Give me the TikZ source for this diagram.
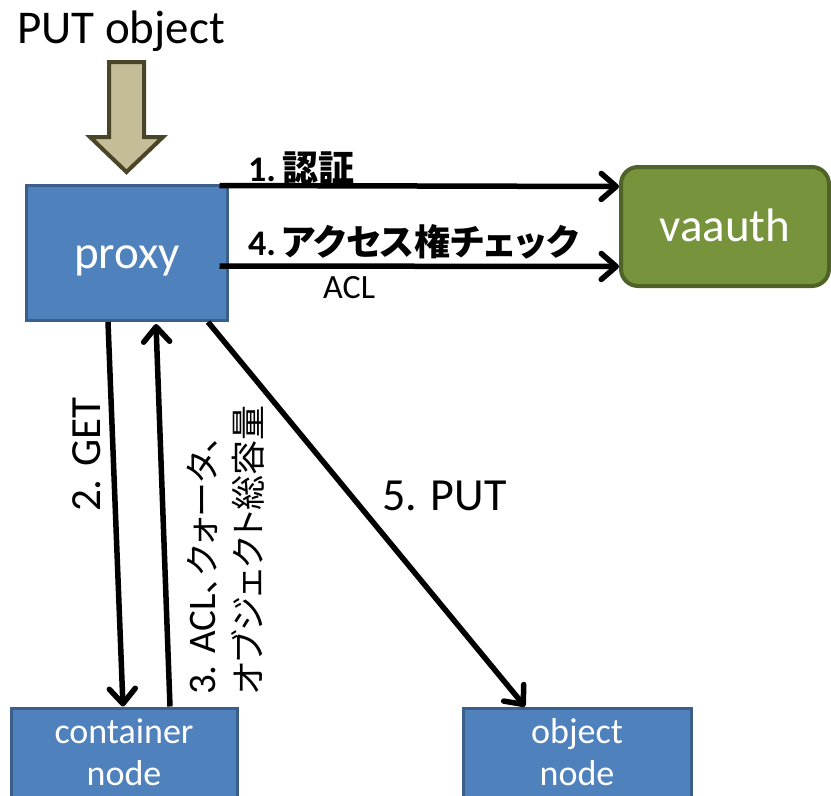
\documentclass[tikz,border=0pt]{standalone}
\usepackage{fontspec}
\setmainfont{Carlito}
\newfontfamily\jp[RawFeature=+palt]{Noto Sans CJK JP}
\usetikzlibrary{arrows.meta}

\definecolor{boxblue}{HTML}{4F81BD}
\definecolor{boxblueline}{HTML}{3A5F8B}
\definecolor{authgreen}{HTML}{77933C}
\definecolor{authgreenline}{HTML}{4F6228}
\definecolor{intan}{HTML}{C4BD97}
\definecolor{intanline}{HTML}{4A4528}

\newcommand\fsz[2]{\fontsize{#1}{#2}\selectfont}

\begin{document}
\begin{tikzpicture}[x=1pt,y=-1pt,
  bluebox/.style={draw=boxblueline, fill=boxblue, line width=3pt, text=white, inner sep=0pt},
  greenbox/.style={draw=authgreenline, fill=authgreen, line width=4pt, text=white, inner sep=0pt, rounded corners=17pt},
  bigtext/.style={font=\fsz{47}{56}, text height=38pt, text depth=8pt},
  nodetext/.style={font=\fsz{36}{42}, text=white, inner sep=0pt, anchor=base},
  lbl/.style={inner sep=0pt, anchor=base west},
  conn/.style={line width=5.5pt, -{Straight Barb[length=15pt, width=26pt, line cap=round, line join=round]}}]

\clip (0,0) rectangle (831,796);

% boxes
\node[bluebox, bigtext, minimum width=201pt, minimum height=135pt] (proxy) at (127,253) {proxy};
\node[greenbox, bigtext, minimum width=208pt, minimum height=119pt] (vaauth) at (725,226.5) {vaauth};
\node[bluebox, anchor=north, minimum width=226pt, minimum height=110pt] (container) at (124,706.5) {};
\node[bluebox, anchor=north, minimum width=228pt, minimum height=110pt] (object) at (577,706.5) {};
\node[nodetext] (containertext) at (124,743) {\begin{tabular}[t]{@{}c@{}}container\\node\end{tabular}};
\node[nodetext] (objecttext) at (577,743) {\begin{tabular}[t]{@{}c@{}}object\\node\end{tabular}};

% incoming request
\node[lbl, font=\fsz{47}{56}] (title) at (17,43) {PUT object};
\draw[draw=intanline, fill=intan, line width=4pt, line join=miter]
  (109,62) -- (144,62) -- (144,137) -- (163,137) -- (126.5,172) -- (90,137) -- (109,137) -- cycle;

% connectors
\draw[conn] ([shift={(-9.5,1.5)}]proxy.north east) -- ([shift={(0,-40)}]vaauth.west);
\draw[conn] ([shift={(-9.5,13)}]proxy.east) -- ([shift={(0,40)}]vaauth.west);
\draw[conn] ([shift={(-19,0)}]proxy.south) -- ([shift={(-1,0)}]container.north);
\draw[conn] ([shift={(46,0)}]container.north) -- ([shift={(29,2)}]proxy.south);
\draw[conn] ([shift={(81,0)}]proxy.south) -- ([shift={(-52,0)}]object.north);

% labels
\node[lbl, font=\bfseries\fsz{36}{42}] (lab1) at (248,181) {1.\,{\jp 認証}};
\node[lbl, font=\bfseries\fsz{36}{42}] (lab4) at (248,255) {4.\,{\jp アクセス権チェック}};
\node[lbl, font=\fsz{34}{40}] (labacl) at (323,298) {ACL};
\node[lbl, rotate=90, font=\fsz{43}{50}] (lab2) at (100,512) {2. GET};
\node[lbl, rotate=90, font=\fsz{39}{46}] (lab3) at (215,695)
  {\begin{tabular}[t]{@{}l@{}}3. ACL{\jp\fsz{35}{46}、クォータ、}\\{\jp\fsz{35}{46}オブジェクト総容量}\end{tabular}};
\node[lbl, font=\fsz{46}{54}] (lab5) at (382,510) {5. PUT};
\end{tikzpicture}
\end{document}
